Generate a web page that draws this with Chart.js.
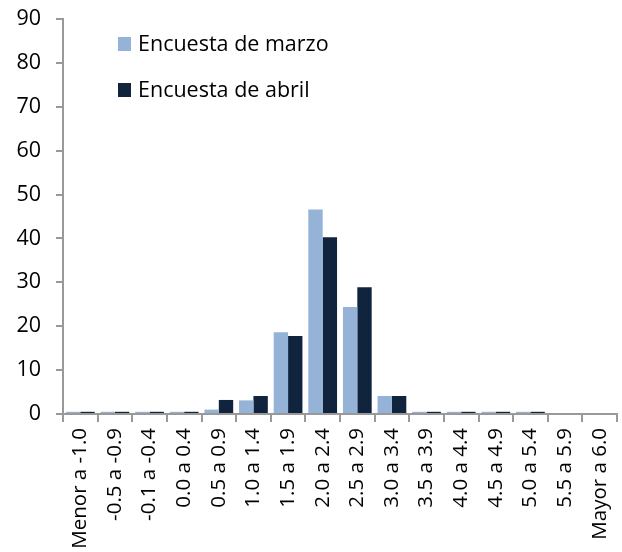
<!DOCTYPE html>
<html>
<head>
<meta charset="utf-8">
<script src="https://cdn.jsdelivr.net/npm/chart.js@4/dist/chart.umd.min.js"></script>
<style>
  html, body { margin: 0; padding: 0; background: #ffffff; }
  #wrap { width: 622px; height: 552px; }
</style>
</head>
<body>
<div id="wrap"><canvas id="c" width="622" height="552"></canvas></div>
<script>
// Rangos de inflación esperada (porcentaje)
const categories = [
  "Menor a -1.0", "-0.5 a -0.9", "-0.1 a -0.4", "0.0 a 0.4", "0.5 a 0.9",
  "1.0 a 1.4", "1.5 a 1.9", "2.0 a 2.4", "2.5 a 2.9", "3.0 a 3.4",
  "3.5 a 3.9", "4.0 a 4.4", "4.5 a 4.9", "5.0 a 5.4", "5.5 a 5.9", "Mayor a 6.0"
];
const seriesNames = ["Encuesta de marzo", "Encuesta de abril"];
const marzo = [0.5, 0.5, 0.5, 0.5, 1.0, 3.1, 18.6, 46.6, 24.4, 4.1, 0.5, 0.5, 0.5, 0.5, 0, 0];
const abril = [0.5, 0.5, 0.5, 0.5, 3.2, 4.1, 17.8, 40.3, 28.9, 4.1, 0.5, 0.5, 0.5, 0.5, 0, 0];
const yTicks = [0, 10, 20, 30, 40, 50, 60, 70, 80, 90];

const colors = ["#95b3d7", "#10243e"];
const FONT = "'Open Sans', Lato, sans-serif";

// Leyenda dibujada dentro del área del gráfico, arriba a la izquierda
const insideLegend = {
  id: "insideLegend",
  afterDraw(chart) {
    const ctx = chart.ctx;
    ctx.save();
    ctx.font = "21.5px " + FONT;
    ctx.textBaseline = "middle";
    chart.data.datasets.forEach((ds, i) => {
      const y = 44 + i * 46;
      ctx.fillStyle = ds.backgroundColor;
      ctx.fillRect(118, y - 7, 13, 14);
      ctx.fillStyle = "#000";
      ctx.fillText(ds.label, 138, y + 1);
    });
    ctx.restore();
  }
};

new Chart(document.getElementById("c"), {
  type: "bar",
  data: {
    labels: categories,
    datasets: [
      { label: seriesNames[0], data: marzo, backgroundColor: colors[0] },
      { label: seriesNames[1], data: abril, backgroundColor: colors[1] }
    ]
  },
  options: {
    responsive: false,
    animation: false,
    devicePixelRatio: 1,
    layout: { padding: { top: 19, right: 5, left: 0, bottom: 0 } },
    plugins: { legend: { display: false }, tooltip: { enabled: false } },
    datasets: { bar: { categoryPercentage: 0.83, barPercentage: 1.0 } },
    scales: {
      x: {
        offset: true,
        grid: {
          offset: true,
          drawOnChartArea: false,
          drawTicks: true,
          tickLength: 8,
          color: "#999",
          lineWidth: 2
        },
        border: { display: true, color: "#999", width: 2 },
        ticks: {
          autoSkip: false,
          maxRotation: 90,
          minRotation: 90,
          padding: 6,
          color: "#000",
          font: { family: FONT, size: 20.5 }
        },
        afterFit(scale) {
          scale.height = 138;
          scale.paddingLeft = 0;
          scale.paddingRight = 0;
        }
      },
      y: {
        min: 0,
        max: 90,
        afterBuildTicks(scale) { scale.ticks = yTicks.map(v => ({ value: v })); },
        grid: {
          drawOnChartArea: false,
          drawTicks: true,
          tickLength: 7,
          color: "#999",
          lineWidth: 2
        },
        border: { display: true, color: "#999", width: 2 },
        ticks: {
          padding: 15,
          color: "#000",
          font: { family: FONT, size: 21.5 }
        },
        afterFit(scale) {
          scale.width = 63;
          scale.paddingTop = 0;
          scale.paddingBottom = 0;
        }
      }
    }
  },
  plugins: [insideLegend]
});
</script>
</body>
</html>
